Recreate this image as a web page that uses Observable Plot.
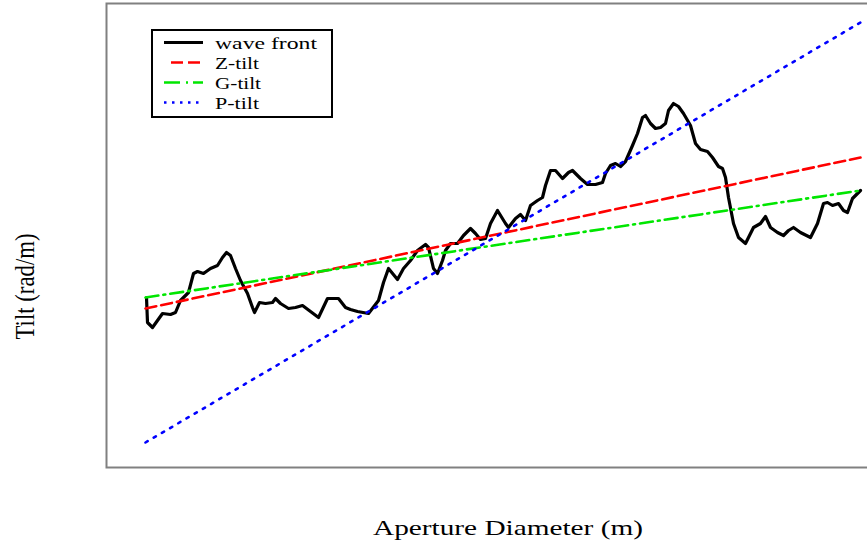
<!DOCTYPE html>
<html><head><meta charset="utf-8">
<script src="https://cdn.jsdelivr.net/npm/d3@7"></script>
<script src="https://cdn.jsdelivr.net/npm/@observablehq/plot@0.6"></script>
<style>
html,body{margin:0;padding:0;background:#fff;overflow:hidden;}
#chart{width:867px;height:545px;position:relative;overflow:hidden;}
</style></head><body><div id="chart"></div>
<script>
// Aperture diameter samples (m) and measured wave-front tilt
const apertureD = [0.01,0.02,0.07,0.12,0.17,0.25,0.30,0.35,0.43,0.48,0.52,0.58,0.65,0.72,0.77,0.81,0.85,0.90,0.95,1.02,1.07,1.09,1.14,1.20,1.27,1.30,1.35,1.43,1.50,1.57,1.65,1.73,1.82,1.93,2.00,2.05,2.12,2.23,2.33,2.38,2.43,2.52,2.58,2.65,2.72,2.80,2.83,2.88,2.92,2.97,3.00,3.05,3.12,3.18,3.25,3.30,3.35,3.40,3.45,3.52,3.60,3.63,3.70,3.75,3.80,3.85,3.92,3.97,4.00,4.05,4.10,4.17,4.23,4.27,4.35,4.42,4.50,4.57,4.60,4.65,4.70,4.75,4.80,4.87,4.92,4.97,5.00,5.05,5.10,5.15,5.20,5.23,5.28,5.33,5.38,5.45,5.50,5.55,5.62,5.67,5.73,5.77,5.80,5.83,5.88,5.93,6.00,6.03,6.08,6.15,6.20,6.25,6.32,6.38,6.43,6.48,6.55,6.65,6.72,6.78,6.82,6.87,6.93,6.98,7.02,7.07,7.12,7.15];
const waveTilt = [1.03,0.78,0.73,0.80,0.87,0.86,0.88,1.00,1.08,1.27,1.29,1.27,1.32,1.35,1.43,1.48,1.45,1.32,1.20,1.07,0.93,0.88,0.98,0.97,0.98,1.02,0.97,0.92,0.93,0.95,0.89,0.83,1.02,1.02,0.93,0.91,0.89,0.87,1.00,1.18,1.32,1.21,1.32,1.40,1.50,1.56,1.53,1.32,1.27,1.40,1.50,1.57,1.57,1.65,1.72,1.67,1.61,1.62,1.77,1.90,1.77,1.73,1.82,1.86,1.80,1.95,2.00,2.03,2.15,2.30,2.30,2.22,2.28,2.30,2.22,2.16,2.16,2.18,2.27,2.35,2.37,2.34,2.39,2.55,2.67,2.83,2.85,2.77,2.72,2.73,2.77,2.90,2.97,2.94,2.87,2.75,2.57,2.51,2.49,2.43,2.34,2.32,2.23,2.03,1.77,1.63,1.57,1.63,1.73,1.77,1.84,1.73,1.68,1.65,1.70,1.73,1.68,1.63,1.77,1.97,1.98,1.95,1.97,1.90,1.88,2.02,2.07,2.10];

// Fitted tilt lines: value at the first and last aperture sample
const fitNames = ["Z-tilt", "G-tilt", "P-tilt"];
const fitRange = [0, 7.15];
const fitStartTilt = [0.92, 1.03, -0.42];
const fitEndTilt = [2.43, 2.10, 3.78];

const legendLabels = ["wave front", "Z-tilt", "G-tilt", "P-tilt"];
const xLabel = "Aperture Diameter (m)";
const yLabel = "Tilt (rad/m)";

const fitColors = ["#ff0000", "#00e600", "#0000ff"];
const fitDash = ["11,5", "13,5,2,5", "2.5,7"];
const serif = "'Liberation Serif','Times New Roman',Times,serif";

const wave = apertureD.map((d, i) => ({d, t: waveTilt[i]}));
const fits = fitNames.map((name, k) => ({
  name,
  pts: fitRange.map((d, j) => ({d, t: j === 0 ? fitStartTilt[k] : fitEndTilt[k]}))
}));

const plot = Plot.plot({
  width: 867, height: 545,
  marginLeft: 106, marginRight: -8, marginTop: 3, marginBottom: 78,
  x: {domain: [-0.39, 7.30], axis: null},
  y: {domain: [-0.67, 3.97], axis: null},
  style: {fontFamily: serif, background: "white", overflow: "hidden"},
  marks: [
    Plot.line(wave, {x: "d", y: "t", stroke: "black", strokeWidth: 3.2, strokeLinejoin: "round", strokeLinecap: "round"}),
    ...fits.map((f, k) => Plot.line(f.pts, {x: "d", y: "t", stroke: fitColors[k], strokeWidth: 2.6, strokeDasharray: fitDash[k]})),
    Plot.frame({stroke: "#808080", strokeWidth: 2}),
    Plot.text([xLabel], {frameAnchor: "bottom", dx: 17, dy: 60, fontSize: 22, lineAnchor: "middle", text: d => d, fill: "black"}),
    Plot.text([yLabel], {frameAnchor: "left", y: [1.14], dx: -81, rotate: -90, fontSize: 28, textAnchor: "middle", lineAnchor: "middle", text: d => d, fill: "black"})
  ]
});

const svg = d3.select(plot);
// stretch axis labels to match the wide lettering
svg.selectAll("text").each(function() {
  const t = d3.select(this);
  const s = t.text();
  if (s === xLabel) t.attr("textLength", 270).attr("lengthAdjust", "spacingAndGlyphs");
  if (s === yLabel) t.attr("textLength", 106).attr("lengthAdjust", "spacingAndGlyphs");
});

// legend box inside the frame
const lg = svg.append("g").attr("font-family", serif).attr("text-anchor", "start");
lg.append("rect").attr("x", 152).attr("y", 30).attr("width", 180).attr("height", 87)
  .attr("fill", "white").attr("stroke", "black").attr("stroke-width", 2);
const legColors = ["black", ...fitColors];
const legDash = [null, "12,5", "16,6,2,5", "2.5,5.5"];
const legX1 = [164, 171, 164, 164];
const legLen = [102, 44, 46, 44];
legendLabels.forEach((lab, i) => {
  const y = 42.5 + i * 20;
  const ln = lg.append("line").attr("x1", legX1[i]).attr("x2", 203).attr("y1", y).attr("y2", y)
    .attr("stroke", legColors[i]).attr("stroke-width", i === 0 ? 3 : 2.6);
  if (legDash[i]) ln.attr("stroke-dasharray", legDash[i]);
  lg.append("text").attr("x", 215).attr("y", y + 6).attr("font-size", 17).attr("fill", "black")
    .attr("text-anchor", "start")
    .attr("textLength", legLen[i]).attr("lengthAdjust", "spacingAndGlyphs").text(lab);
});

document.getElementById("chart").appendChild(plot);
</script></body></html>
